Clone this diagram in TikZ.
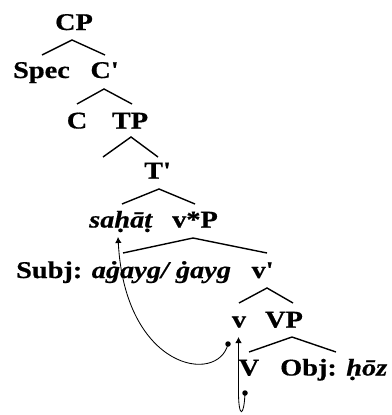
\documentclass[tikz,border=0pt]{standalone}
\usepackage{fontspec}
\setmainfont{Liberation Serif}[FakeStretch=1.18, BoldFeatures={FakeBold=0.6}, BoldItalicFeatures={FakeBold=0.6}]
\usetikzlibrary{arrows.meta}
\begin{document}
\begin{tikzpicture}[x=1pt,y=-1pt,
  lab/.style={font=\fontsize{24}{26}\selectfont\bfseries, inner sep=0pt, anchor=base},
  br/.style={line width=1.4pt},
  mv/.style={line width=0.85pt},
  dotc/.style={circle, fill=black, inner sep=0pt, minimum size=5.5pt},
  tip/.style={-{Latex[length=6pt,width=6.5pt]}}]
\useasboundingbox (0,0) rectangle (391,415);
% labels
\node[lab] (cp) at (74,30) {CP};
\node[lab] (spec) at (41.5,78) {Spec};
\node[lab] (cbar) at (104,78) {C\textquotesingle};
\node[lab] (c) at (77,128.5) {C};
\node[lab] (tp) at (130,128.5) {TP};
\node[lab] (tbar) at (157,178.5) {T\textquotesingle};
\node[lab] (sahat) at (121,227.5) {\textit{saḥāṭ}};
\node[lab] (vsp) at (195,227.5) {v*P};
\node[lab, anchor=base west] (subj) at (16,278) {Subj: \textit{aġayg/ ġayg}};
\node[lab] (vbar) at (262,278) {v\textquotesingle};
\node[lab] (vsmall) at (239,327.5) {v};
\node[lab] (vp) at (284,327.5) {VP};
\node[lab] (vbig) at (249,375.5) {V};
\node[lab, anchor=base west] (obj) at (280,375.5) {Obj: \textit{ḥōz}};
% branches
\coordinate (a1) at (72,40);  \coordinate (l1) at (42,55);   \coordinate (r1) at (105,55);
\coordinate (a2) at (104,89); \coordinate (l2) at (77,104);  \coordinate (r2) at (132,104);
\coordinate (a3) at (131,137);\coordinate (l3) at (103,157); \coordinate (r3) at (158,157);
\coordinate (a4) at (159,189);\coordinate (l4) at (122,204); \coordinate (r4) at (195,204);
\coordinate (a5) at (193,238);\coordinate (l5) at (123,253); \coordinate (r5) at (267,253);
\coordinate (a6) at (267,288);\coordinate (l6) at (239,303); \coordinate (r6) at (293,303);
\coordinate (a7) at (292,337);\coordinate (l7) at (249,352); \coordinate (r7) at (336,352);
\foreach \i in {1,...,7} {\draw[br] (l\i) -- (a\i) -- (r\i);}
% movement
\node[dotc] (d1) at (228,344) {};
\node[dotc] (d2) at (245,393) {};
\coordinate (t1) at (118,237);
\coordinate (t2) at (238.5,337);
\coordinate (k2) at (238.5,392);
\draw[mv,tip] (d1.center) .. controls (218,385) and (125,370) .. (t1);
\draw[mv,tip] (d2.center) .. controls (244,418) and (238.5,418) .. (k2) -- (t2);
\end{tikzpicture}
\end{document}
